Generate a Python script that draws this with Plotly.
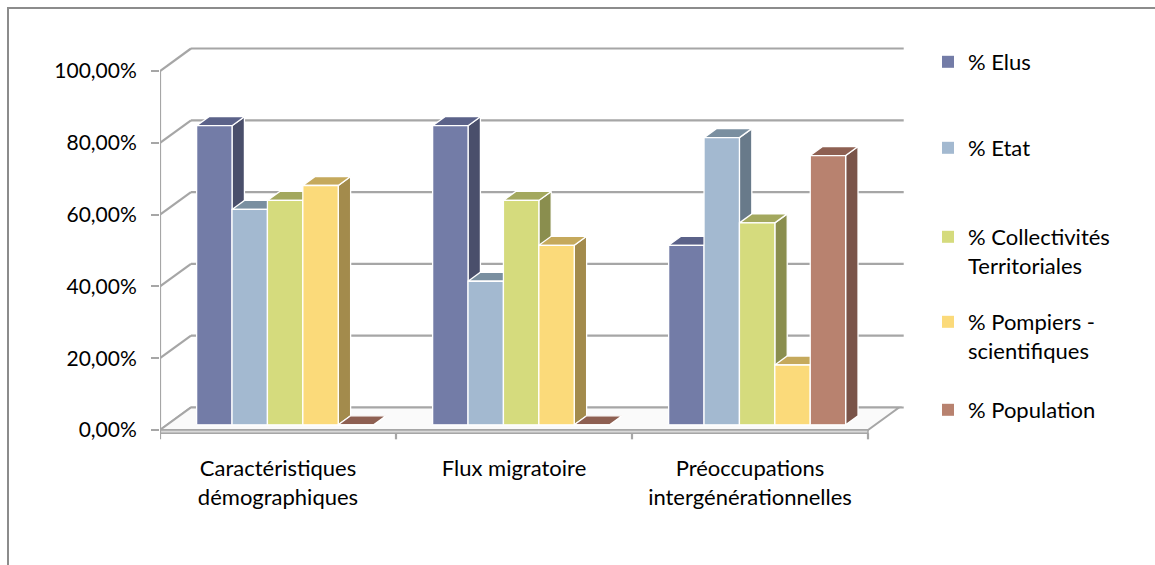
import plotly.graph_objects as go

# ---------------- data ----------------
categories = ["Caractéristiques<br>démographiques", "Flux migratoire",
              "Préoccupations<br>intergénérationnelles"]
series_names = ["% Elus", "% Etat", "% Collectivités<br>Territoriales",
                "% Pompiers -<br>scientifiques", "% Population"]
elus = [83.33, 83.33, 50.0]
etat = [60.0, 40.0, 80.0]
collectivites = [62.5, 62.5, 56.25]
pompiers = [66.67, 50.0, 16.67]
population = [0.0, 0.0, 75.0]
y_tick_values = [0, 20, 40, 60, 80, 100]
y_tick_labels = ["0,00%", "20,00%", "40,00%", "60,00%", "80,00%", "100,00%"]

series_values = [elus, etat, collectivites, pompiers, population]

# ---------------- style ----------------
front_colors = ["#737CA7", "#A3B9D0", "#D5DB7D", "#FBDA7A", "#B8826F"]
side_colors = ["#4A4F6B", "#687A8A", "#8A8E4E", "#A38B4C", "#7A5449"]
top_colors = ["#5B6289", "#7A8FA0", "#A3A85E", "#C5A95C", "#8E6052"]
legend_centers_px = [62, 148, 237, 322, 410]
FONT = "Lato"

W, H = 1155, 565
L, R, T, B = 160, 250, 40, 120
PX_PER_X = 236.0
PX_PER_Y = 3.59
DX = 31 / PX_PER_X          # full depth, x units
DY = 22.5 / PX_PER_Y        # full depth, y units
F0, FD = 0.23, 0.40         # bar front depth and bar depth (fractions)
BW = 0.15
GROUP = BW * len(series_values)
ncat = len(categories)
x_lo = -0.5
x_hi = x_lo + (W - L - R) / PX_PER_X
y_lo = -(H - B - 430) / PX_PER_Y
y_hi = (430 - T) / PX_PER_Y

GRID = "#A6A6A6"


def px_to_paper_x(px):
    return (px - L) / (W - L - R)


def px_to_paper_y(py):
    return (H - B - py) / (H - T - B)


fig = go.Figure()

ddx, ddy = FD * DX, FD * DY
for i, vals in enumerate(series_values):
    fx, fy, sx, sy, tx, ty = [], [], [], [], [], []
    for c, v in enumerate(vals):
        xl = c - GROUP / 2 + i * BW + F0 * DX
        xr = xl + BW
        yb = F0 * DY
        yt = yb + v
        fx += [xl, xr, xr, xl, xl, None]
        fy += [yb, yb, yt, yt, yb, None]
        sx += [xr, xr + ddx, xr + ddx, xr, xr, None]
        sy += [yb, yb + ddy, yt + ddy, yt, yb, None]
        tx += [xl, xr, xr + ddx, xl + ddx, xl, None]
        ty += [yt, yt, yt + ddy, yt + ddy, yt, None]
    for xs, ys, col in ((sx, sy, side_colors[i]), (tx, ty, top_colors[i]),
                        (fx, fy, front_colors[i])):
        fig.add_trace(go.Scatter(x=xs, y=ys, mode="lines", fill="toself",
                                 fillcolor=col,
                                 line=dict(color="white", width=1.3),
                                 hoverinfo="skip", showlegend=False))

# legend entries (one legend each, to follow the original spacing)
for i, name in enumerate(series_names):
    key = "legend" if i == 0 else f"legend{i + 1}"
    fig.add_trace(go.Bar(x=[None], y=[None], name=name, legend=key,
                         marker=dict(color=front_colors[i], line=dict(width=0))))
    fig.update_layout({key: dict(
        xref="container", yref="container",
        x=928 / W, xanchor="left",
        y=1 - (legend_centers_px[i] - 21) / H, yanchor="top",
        bgcolor="rgba(0,0,0,0)", valign="top", borderwidth=0,
        font=dict(family=FONT, size=22, color="black"))})

shapes = []
# back wall gridlines and left wall diagonals
for v in y_tick_values:
    shapes.append(dict(type="line", xref="x", yref="y", layer="below",
                       x0=x_lo + DX, y0=v + DY, x1=ncat - 0.5 + DX + 0.02, y1=v + DY,
                       line=dict(color=GRID, width=2.2)))
    shapes.append(dict(type="line", xref="x", yref="y", layer="below",
                       x0=x_lo, y0=v, x1=x_lo + DX, y1=v + DY,
                       line=dict(color=GRID, width=2.2)))
# floor plate
shapes.append(dict(type="path", xref="x", yref="y", layer="below",
                   path=f"M{x_lo},{0} L{ncat - 0.5},{0} L{ncat - 0.5 + DX},{DY} "
                        f"L{x_lo + DX},{DY} Z",
                   fillcolor="#FAFAFA", line=dict(color=GRID, width=2)))
shapes.append(dict(type="path", xref="x", yref="y", layer="below",
                   path=f"M{x_lo},{0} L{ncat - 0.5},{0} L{ncat - 0.5},{-0.9} "
                        f"L{x_lo},{-0.9} Z",
                   fillcolor="#D9D9D9", line=dict(color=GRID, width=1.5)))
# front vertical axis
shapes.append(dict(type="line", xref="x", yref="y", layer="below",
                   x0=x_lo, y0=-0.9, x1=x_lo, y1=y_tick_values[-1],
                   line=dict(color=GRID, width=2.2)))
# category tick marks
for k in range(ncat + 1):
    shapes.append(dict(type="line", xref="x", yref="y", layer="below",
                       x0=x_lo + k, y0=-0.9, x1=x_lo + k, y1=-2.6,
                       line=dict(color=GRID, width=2.2)))
# outer frame
shapes.append(dict(type="rect", xref="paper", yref="paper", layer="below",
                   x0=px_to_paper_x(8), y0=px_to_paper_y(8),
                   x1=px_to_paper_x(1170), y1=px_to_paper_y(580),
                   line=dict(color="#8C8C8C", width=2), fillcolor="rgba(0,0,0,0)"))

fig.update_layout(
    width=W, height=H,
    margin=dict(l=L, r=R, t=T, b=B, pad=0, autoexpand=False),
    paper_bgcolor="white", plot_bgcolor="rgba(0,0,0,0)",
    shapes=shapes,
    showlegend=True,
    barmode="overlay",
    xaxis=dict(range=[x_lo, x_hi], tickvals=list(range(ncat)), ticktext=categories,
               showgrid=False, zeroline=False, showline=False, ticks="",
               ticklabelstandoff=8, automargin=False,
               tickfont=dict(family=FONT, size=22, color="black"), fixedrange=True),
    yaxis=dict(range=[y_lo, y_hi], tickvals=y_tick_values, ticktext=y_tick_labels,
               showgrid=False, zeroline=False, showline=False,
               ticks="outside", ticklen=8, tickwidth=2.2, tickcolor=GRID,
               ticklabelstandoff=10, automargin=False,
               tickfont=dict(family=FONT, size=21, color="black"), fixedrange=True),
)

fig.write_html("out.html",
               config={"displayModeBar": False, "staticPlot": True},
               post_script="document.body.style.margin='0';"
                           "document.body.style.overflow='hidden';")
